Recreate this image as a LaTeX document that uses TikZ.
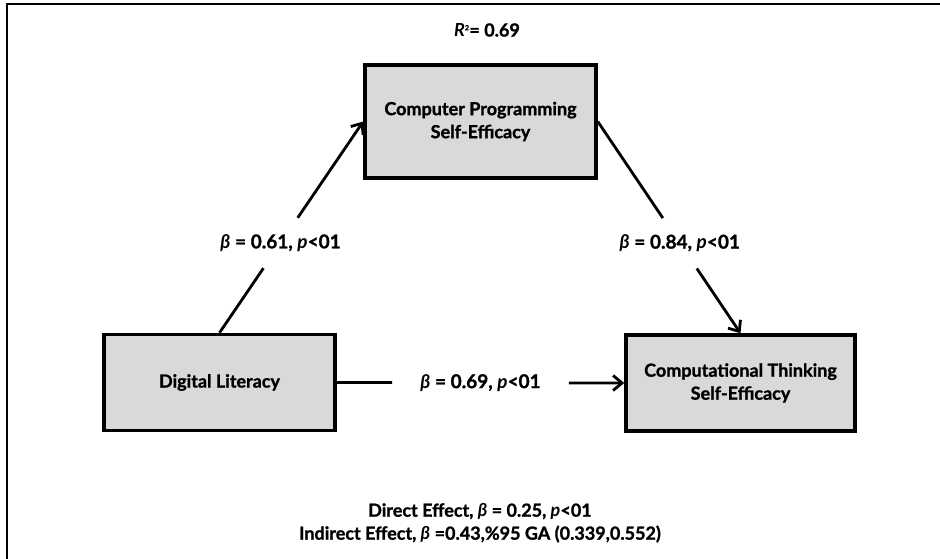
\documentclass[tikz,border=0pt]{standalone}
\usepackage{fontspec}
\setmainfont{Lato}[BoldFeatures={FakeBold=1.2}]
\usepackage{tikz}
\usetikzlibrary{arrows.meta}
\definecolor{boxgray}{HTML}{D9D9D9}

\begin{document}
\begin{tikzpicture}[x=1pt,y=-1pt, every node/.style={font=\fontsize{18}{23}\selectfont\bfseries},
  box/.style={draw,line width=3.5pt,fill=boxgray,align=center,minimum width=231pt},
  lab/.style={inner xsep=28pt,minimum height=50pt,font=\fontsize{19}{23}\selectfont\bfseries},
  ln/.style={line width=2.8pt},
  arr/.style={ln,-{Straight Barb[length=9pt,width=15pt,line width=2.8pt]}}]
\useasboundingbox (0,0) rectangle (940,559);
\draw[line width=2pt] (7,559) -- (7,4) -- (940,4);
\node (r2) at (487,30) {\textit{R}\textsuperscript{\scriptsize 2}= 0.69};
\node[box,minimum height=113pt] (cps) at (480.5,121.5) {Computer Programming\\Self-Efficacy};
\node[box,minimum height=96pt] (dl) at (219.5,382.5) {Digital Literacy};
\node[box,minimum height=96pt,minimum width=229pt] (cts) at (740.5,383) {Computational Thinking\\Self-Efficacy};
\path (dl.north) -- node[lab,pos=0.425] (b1) {\textit{β} = 0.61, \textit{p}<01} (cps.west);
\path (cps.east) -- node[lab,pos=0.575] (b2) {\textit{β} = 0.84, \textit{p}<01} (cts.north);
\path (dl.east) -- node[lab] (b3) {\textit{β} = 0.69, \textit{p}<01} (cts.west);
\foreach \u/\v in {dl.north/b1,cps.east/b2,dl.east/b3} \draw[ln] (\u) -- (\v);
\foreach \u/\v in {b1/cps.west,b2/cts.north,b3/cts.west} \draw[arr] (\u) -- (\v);
\node[align=center,font=\fontsize{18}{23}\selectfont\bfseries] (eff) at (480,523)
  {Direct Effect, \textit{β} = 0.25, \textit{p}<01\\Indirect Effect, \textit{β} =0.43,\%95 GA (0.339,0.552)};
\end{tikzpicture}
\end{document}
